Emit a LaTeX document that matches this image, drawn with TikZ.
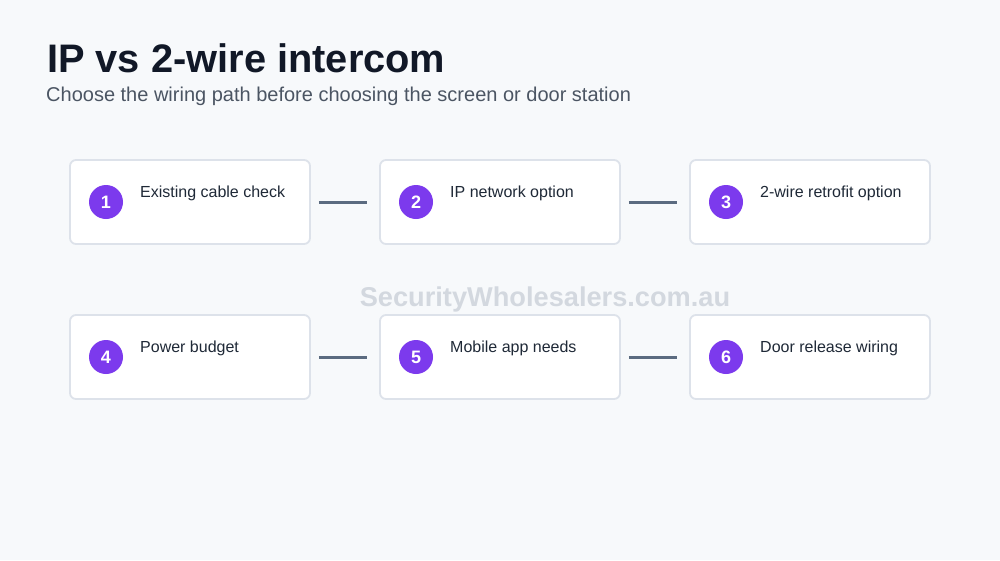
\documentclass[tikz,border=0pt]{standalone}
\usepackage{fontspec}
\setmainfont{Liberation Sans}
\definecolor{bg}{HTML}{F7F9FB}
\definecolor{boxborder}{HTML}{DDE2EA}
\definecolor{purp}{HTML}{7C3AED}
\definecolor{titlec}{HTML}{111827}
\definecolor{subc}{HTML}{4B5563}
\definecolor{textc}{HTML}{1F2937}
\definecolor{linec}{HTML}{5B6B80}
\definecolor{wmark}{HTML}{D3D8DF}
\begin{document}
\begin{tikzpicture}[x=1pt,y=-1pt,
  stepbox/.style={draw=boxborder, line width=1.8pt, fill=white, rounded corners=6pt, minimum width=240pt, minimum height=84pt, inner sep=0pt},
  badge/.style={circle, fill=purp, minimum size=34pt, inner sep=0pt, text=white, font=\fontsize{18}{20}\selectfont\bfseries},
  label/.style={anchor=base west, inner sep=0pt, text=textc, font=\fontsize{16}{18}\selectfont},
  link/.style={draw=linec, line width=3pt, shorten <=8pt, shorten >=12pt}]
\fill[bg] (0,0) rectangle (1000,560);
\useasboundingbox (0,0) rectangle (1000,560);
\node[anchor=base west, inner sep=0pt, text=titlec, font=\fontsize{39.8}{44}\selectfont\bfseries] (title) at (47,72) {IP vs 2-wire intercom};
\node[anchor=base west, inner sep=0pt, text=subc, font=\fontsize{20}{24}\selectfont] (sub) at (46,101) {Choose the wiring path before choosing the screen or door station};
\node[anchor=base, inner sep=0pt, text=wmark, font=\fontsize{27.2}{30}\selectfont\bfseries] (wm) at (545,306) {SecurityWholesalers.com.au};
% row 1
\node[stepbox] (b1) at (190,202) {};
\node[stepbox] (b2) at (500,202) {};
\node[stepbox] (b3) at (810,202) {};
% row 2
\node[stepbox] (b4) at (190,357) {};
\node[stepbox] (b5) at (500,357) {};
\node[stepbox] (b6) at (810,357) {};
% badges
\node[badge] (n1) at (106,202) {1};
\node[badge] (n2) at (416,202) {2};
\node[badge] (n3) at (726,202) {3};
\node[badge] (n4) at (106,357) {4};
\node[badge] (n5) at (416,357) {5};
\node[badge] (n6) at (726,357) {6};
% labels
\node[label] (t1) at (140,197) {Existing cable check};
\node[label] (t2) at (450,197) {IP network option};
\node[label] (t3) at (760,197) {2-wire retrofit option};
\node[label] (t4) at (140,352) {Power budget};
\node[label] (t5) at (450,352) {Mobile app needs};
\node[label] (t6) at (760,352) {Door release wiring};
% connectors
\draw[link] (b1.east) -- (b2.west);
\draw[link] (b2.east) -- (b3.west);
\draw[link] (b4.east) -- (b5.west);
\draw[link] (b5.east) -- (b6.west);
\end{tikzpicture}
\end{document}
